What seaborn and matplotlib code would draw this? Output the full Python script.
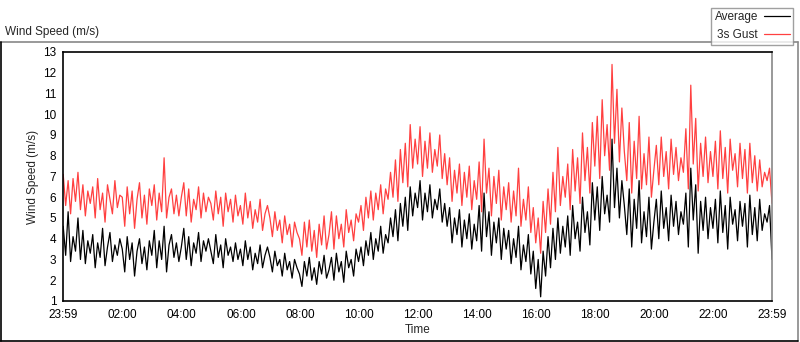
import numpy as np
import pandas as pd
import matplotlib
matplotlib.use("Agg")
import matplotlib.pyplot as plt
import matplotlib.dates as mdates
from matplotlib.lines import Line2D
import seaborn as sns

# Wind speed (m/s), 5-minute samples from 23:59 to 23:59 next day
average = [
    4.6, 3.2, 5.3, 2.9, 4.1, 3.4, 5.0, 3.0, 4.4, 2.8, 3.9, 3.3,
    4.2, 2.6, 3.8, 3.1, 4.5, 2.7, 3.6, 4.3, 2.9, 3.7, 3.2, 4.0,
    3.5, 2.4, 4.1, 3.0, 3.8, 2.2, 3.4, 4.0, 2.8, 3.6, 2.5, 3.9,
    3.2, 4.4, 2.6, 3.9, 3.0, 4.6, 2.4, 3.7, 4.2, 3.1, 3.8, 2.9,
    3.6, 4.5, 3.0, 4.1, 2.7, 3.8, 3.3, 4.3, 2.9, 3.9, 3.4, 4.0,
    3.4, 2.8, 4.2, 3.1, 3.7, 2.6, 4.0, 3.2, 3.6, 2.9, 3.8, 3.0,
    3.5, 2.7, 3.9, 3.0, 3.6, 2.5, 3.3, 2.8, 3.7, 2.6, 3.2, 3.6,
    3.1, 2.4, 3.4, 2.7, 3.0, 2.2, 3.3, 2.5, 2.9, 2.1, 3.0, 2.6,
    2.3, 1.7, 2.9, 2.2, 3.1, 2.0, 2.6, 1.8, 2.9, 2.3, 3.2, 2.1,
    2.5, 3.1, 2.0, 3.3, 2.4, 2.9, 1.9, 3.4, 2.6, 3.0, 2.2, 3.5,
    2.9, 3.6, 2.7, 3.9, 3.2, 4.3, 3.0, 4.0, 3.4, 4.6, 3.3, 4.2,
    3.8, 5.0, 4.1, 5.4, 3.9, 5.7, 4.6, 6.0, 4.4, 6.5, 5.1, 6.2,
    5.5, 6.8, 4.9, 6.2, 5.3, 6.6, 5.0, 5.9, 5.4, 6.4, 4.8, 5.7,
    4.6, 5.5, 3.8, 5.0, 4.2, 5.4, 3.6, 4.9, 4.0, 5.2, 3.5, 4.7,
    3.9, 5.6, 3.4, 6.2, 4.1, 5.3, 3.2, 4.8, 3.8, 5.0, 3.0, 4.5,
    3.5, 4.4, 2.8, 4.0, 3.1, 4.6, 2.5, 3.7, 2.9, 4.2, 2.3, 3.4,
    1.6, 3.0, 1.2, 3.4, 2.2, 4.1, 2.6, 4.5, 3.0, 5.0, 3.3, 4.6,
    3.6, 5.1, 3.2, 5.6, 4.0, 4.8, 3.4, 6.0, 4.3, 5.3, 3.7, 6.7,
    4.9, 6.5, 4.4, 7.0, 5.2, 6.1, 4.8, 8.8, 5.5, 7.4, 5.0, 6.8,
    5.6, 4.2, 6.4, 3.6, 5.9, 4.5, 6.8, 3.8, 5.3, 4.1, 6.0, 3.5,
    4.8, 5.9, 4.0, 6.3, 4.5, 5.5, 3.9, 6.1, 4.6, 5.8, 4.2, 5.3,
    4.7, 6.2, 3.6, 7.4, 4.9, 6.6, 3.3, 5.8, 4.4, 6.0, 4.0, 5.5,
    4.5, 5.9, 3.8, 6.3, 4.3, 5.6, 3.5, 6.0, 4.7, 5.4, 3.9, 5.8,
    4.6, 5.7, 3.6, 6.1, 4.2, 5.5, 3.9, 5.9, 4.4, 5.2, 4.8, 5.6, 3.0,
]

gust = [
    7.1, 5.6, 6.8, 5.2, 6.9, 5.8, 7.2, 5.4, 6.6, 5.1, 6.3, 5.7,
    6.5, 5.0, 6.9, 5.4, 6.2, 4.8, 6.6, 5.9, 5.2, 6.8, 5.5, 6.1,
    6.0, 4.6, 6.5, 5.2, 6.3, 4.5, 5.9, 6.7, 5.0, 6.1, 4.7, 6.4,
    5.6, 6.6, 4.9, 6.2, 5.3, 7.9, 5.0, 6.0, 6.4, 5.2, 6.1, 5.1,
    6.0, 6.7, 5.1, 6.4, 4.8, 5.9, 5.4, 6.5, 5.0, 6.2, 5.3, 6.0,
    5.7, 4.9, 6.3, 5.2, 6.0, 4.6, 6.2, 5.3, 5.9, 4.8, 6.1, 5.1,
    5.6, 4.7, 6.2, 5.0, 5.8, 4.5, 5.4, 4.8, 5.9, 4.4, 5.2, 5.6,
    5.0, 4.1, 5.3, 4.4, 4.9, 3.8, 5.1, 4.2, 4.7, 3.6, 4.8, 4.3,
    4.0, 3.2, 4.8, 3.6, 4.9, 3.4, 4.4, 3.1, 4.7, 3.7, 5.1, 3.5,
    4.2, 5.3, 3.5, 5.1, 4.0, 4.7, 3.6, 5.4, 4.3, 4.9, 3.9, 5.2,
    4.8, 5.6, 4.4, 6.0, 5.0, 6.3, 4.9, 6.2, 5.4, 6.6, 5.2, 6.4,
    5.9, 7.2, 6.0, 7.8, 5.8, 8.3, 6.7, 8.6, 6.5, 9.5, 7.4, 8.8,
    7.6, 9.4, 7.0, 8.7, 7.4, 9.1, 7.2, 8.3, 7.5, 9.0, 6.9, 8.1,
    6.6, 7.9, 5.8, 7.3, 6.2, 7.6, 5.6, 7.2, 6.0, 7.5, 5.4, 6.8,
    5.9, 7.7, 5.3, 8.8, 6.2, 7.4, 5.1, 7.0, 5.7, 7.3, 4.9, 6.5,
    5.4, 6.7, 4.8, 6.3, 5.1, 7.4, 4.6, 5.9, 4.9, 6.5, 4.3, 5.5,
    3.8, 5.0, 3.3, 5.8, 4.3, 6.4, 4.7, 7.2, 5.3, 8.4, 5.6, 7.0,
    6.0, 7.6, 5.4, 8.3, 6.3, 7.9, 5.7, 9.1, 6.8, 8.4, 6.2, 9.6,
    7.5, 9.9, 6.9, 10.7, 8.0, 9.5, 7.3, 12.4, 8.6, 11.2, 7.7, 10.3,
    8.2, 6.8, 9.6, 6.2, 8.7, 6.9, 9.9, 6.4, 8.1, 6.6, 8.9, 6.0,
    7.3, 8.5, 6.6, 8.9, 7.0, 8.2, 6.4, 8.8, 7.1, 8.4, 6.8, 7.9,
    7.2, 9.3, 6.4, 11.4, 7.6, 9.8, 6.3, 8.6, 7.0, 8.9, 6.7, 8.2,
    7.0, 8.7, 6.4, 9.2, 6.9, 8.4, 6.2, 8.8, 7.3, 8.1, 6.5, 8.6,
    6.9, 8.3, 6.2, 8.6, 6.7, 8.0, 6.3, 7.8, 6.5, 7.2, 6.8, 7.4, 5.7,
]

start = pd.Timestamp("2023-01-01 23:59")
end = pd.Timestamp("2023-01-02 23:59")
times = pd.date_range(start, end, periods=len(average))

df = pd.DataFrame({
    "Time": np.concatenate([times, times]),
    "Wind Speed (m/s)": average + gust,
    "Series": ["Average"] * len(average) + ["3s Gust"] * len(gust),
})

sns.set_style("white")
plt.rcParams["font.family"] = ["Liberation Sans", "DejaVu Sans"]

fig = plt.figure(figsize=(8, 3.42), dpi=100)
ax = fig.add_axes([0.079, 0.12, 0.886, 0.728])

sns.lineplot(data=df, x="Time", y="Wind Speed (m/s)", hue="Series",
             hue_order=["3s Gust", "Average"],
             palette={"Average": "black", "3s Gust": "#ff4040"},
             linewidth=0.9, ax=ax, legend=False)

ax.set_xlim(start, end)
ax.set_ylim(1, 13)
ax.set_yticks(range(1, 14))

major = [start] + list(pd.date_range("2023-01-02 02:00", "2023-01-02 22:00", freq="2h")) + [end]
ax.set_xticks(major)
ax.set_xticklabels([t.strftime("%H:%M") for t in major])
ax.xaxis.set_minor_locator(matplotlib.ticker.FixedLocator(
    mdates.date2num(pd.date_range(start, end, freq="12min"))))

ax.tick_params(axis="both", which="major", direction="out", length=3, width=0.8,
               labelsize=8.5, pad=2, colors="black")
ax.tick_params(axis="x", which="minor", direction="out", length=2, width=0.6)
ax.tick_params(axis="x", which="major", length=4)
ax.set_xlabel("Time", fontsize=8.5, labelpad=2)
ax.set_ylabel("Wind Speed (m/s)", fontsize=8.5, labelpad=3)

for side in ["left", "top", "bottom"]:
    ax.spines[side].set_color("black")
    ax.spines[side].set_linewidth(1.2)
ax.spines["right"].set_color("#888888")
ax.spines["right"].set_linewidth(1.2)

# outer panel frame
fig.add_artist(Line2D([0.0, 0.997], [0.877, 0.877], color="#888888", lw=1.2, transform=fig.transFigure))
fig.add_artist(Line2D([0.997, 0.997], [0.877, 0.002], color="#888888", lw=1.2, transform=fig.transFigure))
fig.add_artist(Line2D([0.001, 0.001], [0.877, 0.002], color="black", lw=1.2, transform=fig.transFigure))
fig.add_artist(Line2D([0.0, 0.997], [0.002, 0.002], color="black", lw=1.2, transform=fig.transFigure))

fig.text(0.006, 0.905, "Wind Speed (m/s)", fontsize=8.5, ha="left", va="center")

handles = [Line2D([], [], color="black", lw=0.9), Line2D([], [], color="#ff4040", lw=0.9)]
fig.legend(handles, ["Average", "3s Gust"], loc="upper right", bbox_to_anchor=(0.999, 0.995),
           markerfirst=False, fontsize=8.5, frameon=True, fancybox=False,
           edgecolor="#888888", handlelength=2.2, labelspacing=0.5, borderpad=0.3,
           handletextpad=0.5)

fig.savefig("out.png", dpi=100)
